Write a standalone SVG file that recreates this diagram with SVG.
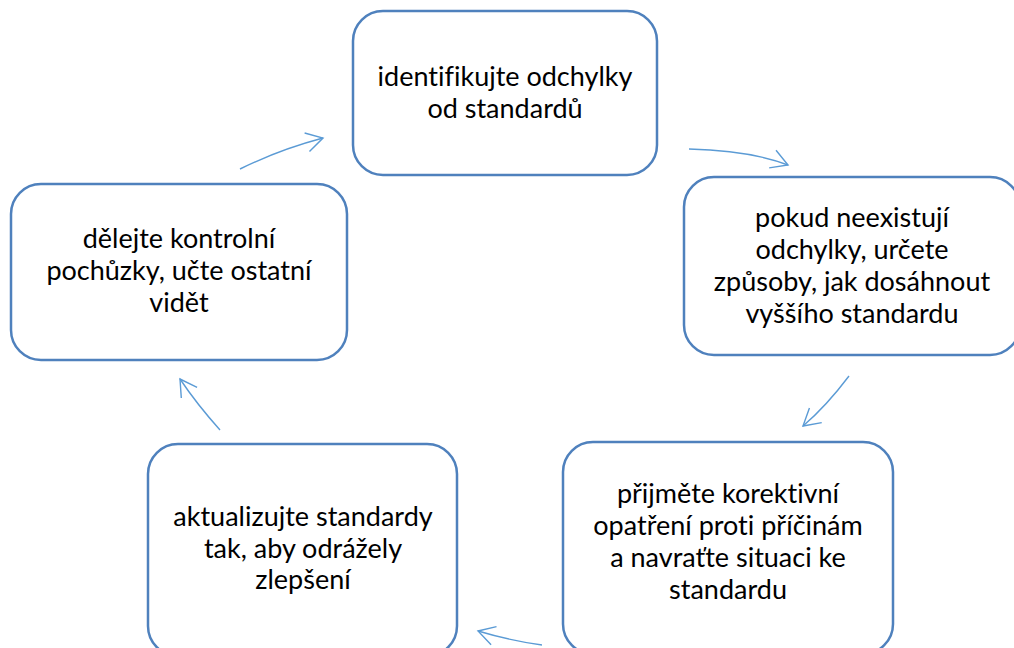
<svg xmlns="http://www.w3.org/2000/svg" width="1014" height="648" viewBox="0 0 1014 648">
<style>
.box{fill:#fff;stroke:#4f81bd;stroke-width:2.5}
.t{font-family:Lato,"Liberation Sans",sans-serif;font-size:27px;fill:#000;text-anchor:middle;font-variant-ligatures:none}
.c{fill:none;stroke:#5b9bd5;stroke-width:1.4}
</style>
<defs>
<marker id="ah" markerUnits="userSpaceOnUse" viewBox="-20 -12 22 24" refX="0" refY="0" markerWidth="22" markerHeight="24" orient="auto" overflow="visible">
<path d="M-16.5,-9.5 L0,0 L-16.5,9.5" fill="none" stroke="#5b9bd5" stroke-width="1.4"/>
</marker>
</defs>
<rect width="1014" height="648" fill="#fff"/>
<g id="connectors">
<path class="c" d="M240,169 Q279.5,149.5 323,138" marker-end="url(#ah)"/>
<path class="c" d="M689,149 Q750.7,150.6 788,165" marker-end="url(#ah)"/>
<path class="c" d="M849,376 Q825.9,406.6 803,426" marker-end="url(#ah)"/>
<path class="c" d="M542,645 Q511.5,641 478,631" marker-end="url(#ah)"/>
<path class="c" d="M220,430 Q196.7,403.9 180,379" marker-end="url(#ah)"/>
</g>
<g id="n1">
<rect class="box" x="353" y="11" width="304" height="164" rx="30"/>
<text class="t" x="505" y="86">identifikujte odchylky</text>
<text class="t" x="505" y="118">od standardů</text>
</g>
<g id="n2">
<rect class="box" x="684" y="177" width="336" height="178" rx="30"/>
<text class="t" x="852" y="227">pokud neexistují</text>
<text class="t" x="852" y="259">odchylky, určete</text>
<text class="t" x="852" y="291">způsoby, jak dosáhnout</text>
<text class="t" x="852" y="323">vyššího standardu</text>
</g>
<g id="n3">
<rect class="box" x="563" y="442" width="330" height="212" rx="30"/>
<text class="t" x="728" y="503">přijměte korektivní</text>
<text class="t" x="728" y="535">opatření proti příčinám</text>
<text class="t" x="728" y="567">a navraťte situaci ke</text>
<text class="t" x="728" y="599">standardu</text>
</g>
<g id="n4">
<rect class="box" x="148" y="444" width="309" height="212" rx="30"/>
<text class="t" x="303" y="526">aktualizujte standardy</text>
<text class="t" x="303" y="558">tak, aby odrážely</text>
<text class="t" x="303" y="589">zlepšení</text>
</g>
<g id="n5">
<rect class="box" x="11" y="184" width="336" height="176" rx="30"/>
<text class="t" x="179" y="248">dělejte kontrolní</text>
<text class="t" x="179" y="280">pochůzky, učte ostatní</text>
<text class="t" x="179" y="312">vidět</text>
</g>
</svg>
